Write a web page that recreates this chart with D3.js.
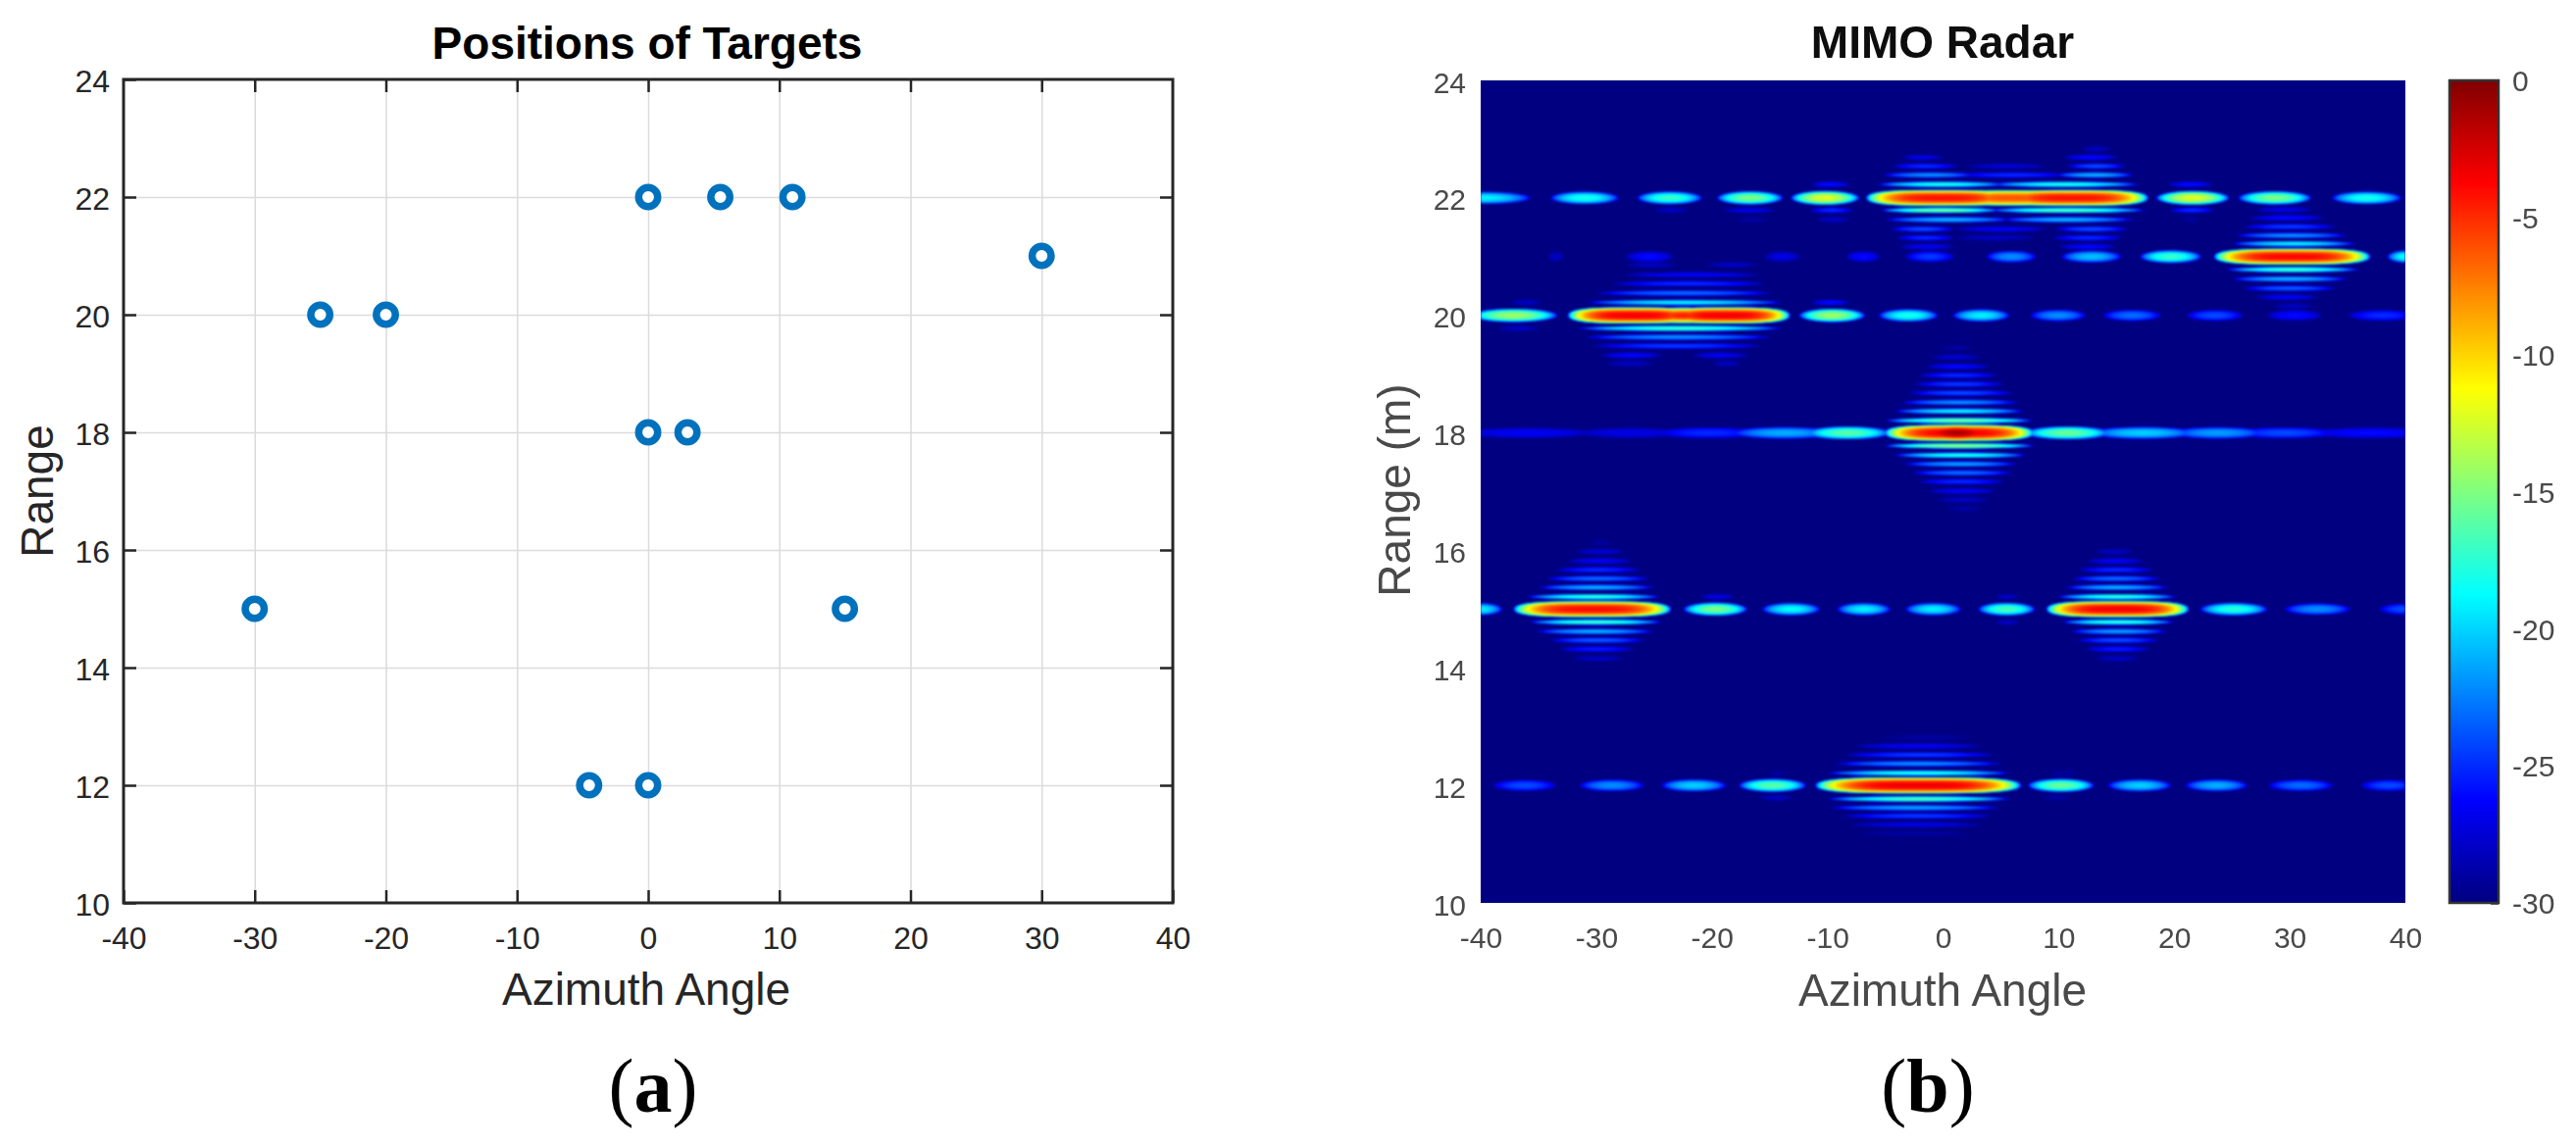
<!DOCTYPE html>
<html>
<head>
<meta charset="utf-8">
<script src="https://cdn.jsdelivr.net/npm/d3@7"></script>
<style>
body { margin: 0; background: #fff; }
text { font-family: "Liberation Sans", Arial, sans-serif; }
.caption { font-family: "Liberation Serif", serif; }
</style>
</head>
<body>
<svg id="fig" width="2627" height="1170"></svg>
<script>
// target positions, panel (a)
var targetAz = [0, 5.5, 11, 30, -25, -20, 0, 3, -30, 15, -4.5, 0]
var targetRange = [22, 22, 22, 21, 20, 20, 18, 18, 15, 15, 12, 12]

var azTicks = [-40, -30, -20, -10, 0, 10, 20, 30, 40]
var rangeTicks = [10, 12, 14, 16, 18, 20, 22, 24]
var dbTicks = [0, -5, -10, -15, -20, -25, -30]

// jet colormap stops
var jetDb = [-30, -26.25, -18.75, -11.25, -3.75, 0]
var jetColors = ["#000080", "#0000ff", "#00ffff", "#ffff00", "#ff0000", "#800000"]

// panel (b): bright streaks on each range line
// [az start, az end, peak dB]
var row22Spots = [[-44, -35.6, -19], [-34, -28, -18], [-26.5, -20.8, -17], [-19.6, -13.8, -15], [-13.2, -7.2, -12],
  [-6.7, 6.5, -4.2], [1, 11, -6.2], [4.5, 17.8, -4.2], [18.4, 24.8, -12], [25.5, 31.9, -15], [33.6, 39.7, -18]]
var row21Spots = [[-34.2, -32.8, -28], [-27.5, -23.3, -26], [-15.5, -12.3, -27], [-8.4, -5.4, -26], [-3.3, 1, -24.5],
  [3.7, 8.1, -22], [10.2, 15.5, -20.5], [17, 22.4, -17], [23.4, 37, -3.8], [38.4, 42, -18]]
var row20Spots = [[-41, -33.3, -14], [-32.5, -21, -3.5], [-27, -18, -4.5], [-24.5, -13.2, -3.5], [-12.5, -6.7, -14],
  [-5.6, -0.4, -18], [0.8, 5.8, -19], [7.5, 12.4, -22], [13.8, 18.9, -23], [21, 26, -24], [28, 32.8, -26], [35, 41, -25]]
var row18Spots = [[-42, -30, -26.5], [-32, -22, -27], [-25, -15.5, -25], [-18.5, -9, -21], [-12, -4.5, -16],
  [-5.1, 7.9, -3.5], [-3, 5.4, -1], [7, 14.5, -15.5], [12.5, 22, -20], [19.5, 28, -21.5], [25, 34, -24], [31, 43, -26]]
var row15Spots = [[-42, -38.1, -19], [-37.2, -23.5, -4], [-22.5, -16.9, -15], [-15.7, -10.6, -18.5], [-9.2, -4.5, -19],
  [-3.3, 1.6, -19], [3, 8, -16.5], [8.9, 21.3, -3.5], [22.2, 28.1, -17.5], [29.5, 35.3, -22], [37.7, 42, -24]]
var row12Spots = [[-39, -33.4, -24], [-31.5, -25.8, -22], [-24.4, -18.7, -20], [-17.7, -11.8, -16], [-11.1, 6.8, -3.2],
  [7.3, 13.1, -15.5], [14.2, 19.8, -20], [20.9, 26.4, -21], [28.1, 33.8, -23], [36.1, 41, -24]]

var spotRows = [22, 21, 20, 18, 15, 12]
var spotLists = [row22Spots, row21Spots, row20Spots, row18Spots, row15Spots, row12Spots]

// thin side stripes above and below the main lobes
// [range, az start, az end, peak dB]
var fringes22 = [[22.23, -5.7, 5.5, -18], [22.23, 4, 17, -18], [22.39, -5.2, 2.9, -22], [22.39, 1, 11, -25], [22.39, 9.7, 16.5, -21],
  [22.54, -4.4, 1.3, -25], [22.54, 2, 9, -27.5], [22.54, 10.7, 15.8, -24], [22.69, -3.6, 0, -27], [22.69, 10.4, 15.1, -26], [22.83, 12, 14.5, -28],
  [21.79, -5.4, 5, -15.5], [21.79, 4, 17.5, -16.5], [21.63, -5, 6, -21], [21.63, 5, 16.5, -21], [21.47, -4.5, 1, -24], [21.47, 1, 9, -26.5], [21.47, 9.7, 16, -24],
  [21.32, -4, 1, -25], [21.32, 1, 8, -28], [21.32, 9.5, 15.5, -25], [21.17, -3.8, 1, -26.5], [21.17, 10, 15, -26],
  [22.23, -11.5, -8, -26], [21.79, -11.5, -7.8, -25], [21.63, -11, -8, -28], [21.79, -25, -22, -28], [21.79, -19, -14.5, -27], [21.63, -18, -15, -29],
  [21.79, 19.6, 23.5, -25], [22.23, 19.4, 23.4, -26], [21.63, 20.6, 22.2, -29]]
var fringes21 = [[21.22, 25, 35.7, -19], [21.36, 25.3, 35, -22], [21.51, 26, 34, -24.5], [21.66, 26.5, 33, -26], [21.8, 27, 32, -27],
  [20.78, 24.5, 36, -17], [20.62, 25, 35, -21], [20.46, 26, 34, -23.5], [20.31, 27, 32.5, -26.5], [20.16, 28.5, 32, -28]]
var fringes20 = [[20.22, -30.8, -13.9, -19], [20.38, -30, -14.8, -23], [20.54, -28.7, -15.3, -25], [20.69, -27.7, -15.8, -26.5], [20.86, -27.5, -23, -28], [20.86, -20.5, -16, -28],
  [19.78, -31.6, -13.9, -17], [19.63, -31, -14.9, -22], [19.48, -30.4, -15.7, -24.5], [19.32, -29.6, -24.3, -26], [19.32, -21.7, -16.8, -26.5], [19.18, -29.2, -25, -28], [19.18, -20, -17.5, -28],
  [20.22, -37.5, -34.7, -28], [19.78, -38.5, -34.9, -28], [20.22, -11.4, -8.1, -26]]
var fringes18 = [[18.21, -5, 7.8, -15.5], [18.37, -4.2, 7, -19], [18.52, -3.6, 6.5, -22], [18.68, -3, 6.1, -24], [18.83, -2.5, 5.3, -24.5], [18.98, -2.1, 4.7, -25], [19.13, -1.5, 4, -26], [19.29, -1, 3.2, -27.5], [19.45, -0.4, 2.5, -29],
  [17.78, -5.1, 7.9, -14.5], [17.62, -4.2, 7.2, -18], [17.47, -3.4, 6.4, -21.5], [17.32, -2.7, 6, -23], [17.17, -2.1, 5.3, -25], [17.01, -1.3, 4.6, -26.5], [16.86, -0.6, 4.1, -28], [16.71, 0.2, 3.5, -29]]
var fringes15 = [[15.21, -36, -24.5, -17.5], [15.37, -35, -25, -21], [15.52, -34.3, -25.4, -23], [15.67, -33.5, -26.2, -25], [15.82, -32.5, -26.9, -26.5], [15.98, -31.8, -27.5, -27.5], [16.13, -30.5, -28.7, -29],
  [14.78, -35.8, -24.3, -17], [14.62, -35.2, -25, -21], [14.47, -34, -25.8, -23.5], [14.32, -33.2, -26.7, -25.5], [14.16, -32.1, -27.6, -28],
  [15.21, 9.9, 20.2, -17.5], [15.37, 10.6, 19.5, -21], [15.52, 11.2, 18.8, -23], [15.67, 11.7, 18.2, -25], [15.82, 12.4, 17.4, -26.5], [15.98, 13.1, 16.5, -28],
  [14.78, 10.3, 20, -17.5], [14.62, 11, 19.4, -21.5], [14.47, 11.6, 18.7, -24], [14.32, 12.3, 17.9, -25.5], [14.16, 13.1, 17, -28],
  [15.21, -21, -18, -27], [15.21, 4.5, 6.6, -28], [14.78, 4.5, 6.6, -28]]
var fringes12 = [[12.21, -10, 5.8, -18], [12.37, -9.4, 5.1, -22], [12.52, -8.5, 4.5, -24.5], [12.67, -7.7, 3.4, -26.5], [12.82, -5.3, 2.5, -29],
  [11.77, -10, 5.8, -16.5], [11.62, -9.8, 4.9, -21.5], [11.48, -8.7, 4.2, -24.5], [11.33, -8.1, 3.4, -27], [11.18, -7.4, 2.3, -29],
  [12.21, -15, -13.5, -29], [11.79, -15.9, -13, -28], [12.21, 9.2, 11.6, -29], [11.79, 8.6, 11, -29]]
var fringeLists = [fringes22, fringes21, fringes20, fringes18, fringes15, fringes12]

var svg = d3.select("#fig")
var ink = "#262626"
var gray = "#484848"
var plainNum = function(d) { return String(d) }

// soft edge for the text of panel (b), that panel is a blurry raster in the source
svg.append("defs").append("filter").attr("id", "soft")
  .append("feGaussianBlur").attr("stdDeviation", 0.6)

// ---------- panel (a)
var boxA = {left: 126, right: 1196, top: 81, bottom: 921}
var xA = d3.scaleLinear().domain([-40, 40]).range([boxA.left, boxA.right])
var yA = d3.scaleLinear().domain([10, 24]).range([boxA.bottom, boxA.top])
var innerAz = azTicks.slice(1, -1)
var innerRange = rangeTicks.slice(1, -1)

var panelA = svg.append("g")

// grid
panelA.append("g").attr("transform", "translate(0," + boxA.bottom + ")")
  .call(d3.axisBottom(xA).tickValues(innerAz).tickSize(boxA.top - boxA.bottom).tickFormat(""))
  .call(function(g) { g.select(".domain").remove(); g.selectAll("line").attr("stroke", "#dcdcdc").attr("stroke-width", 1.6) })
panelA.append("g").attr("transform", "translate(" + boxA.left + ",0)")
  .call(d3.axisLeft(yA).tickValues(innerRange).tickSize(boxA.left - boxA.right).tickFormat(""))
  .call(function(g) { g.select(".domain").remove(); g.selectAll("line").attr("stroke", "#dcdcdc").attr("stroke-width", 1.6) })

function styleAxis(g, size) {
  g.select(".domain").remove()
  g.selectAll("line").attr("stroke", ink).attr("stroke-width", 2.5)
  g.selectAll("text").attr("fill", ink).style("font-size", size + "px")
}

// four sides with ticks pointing in
panelA.append("g").attr("transform", "translate(0," + boxA.bottom + ")")
  .call(d3.axisBottom(xA).tickValues(azTicks).tickFormat(plainNum).tickSize(-13).tickPadding(24))
  .call(styleAxis, 32)
panelA.append("g").attr("transform", "translate(0," + boxA.top + ")")
  .call(d3.axisTop(xA).tickValues(innerAz).tickSize(-13).tickFormat(""))
  .call(styleAxis, 32)
panelA.append("g").attr("transform", "translate(" + boxA.left + ",0)")
  .call(d3.axisLeft(yA).tickValues(rangeTicks).tickFormat(plainNum).tickSize(-13).tickPadding(14))
  .call(styleAxis, 32)
  .call(function(g) { g.selectAll("text").attr("dy", "0.4em") })
panelA.append("g").attr("transform", "translate(" + boxA.right + ",0)")
  .call(d3.axisRight(yA).tickValues(innerRange).tickSize(-13).tickFormat(""))
  .call(styleAxis, 32)
panelA.append("rect")
  .attr("x", boxA.left).attr("y", boxA.top)
  .attr("width", boxA.right - boxA.left).attr("height", boxA.bottom - boxA.top)
  .attr("fill", "none").attr("stroke", ink).attr("stroke-width", 3)

panelA.selectAll("circle.target").data(targetAz).enter().append("circle")
  .attr("class", "target")
  .attr("cx", function(d) { return xA(d) })
  .attr("cy", function(d, i) { return yA(targetRange[i]) })
  .attr("r", 9.7)
  .attr("fill", "#fff")
  .attr("stroke", "#0072bd")
  .attr("stroke-width", 7.5)

panelA.append("text").attr("x", 660).attr("y", 60).attr("text-anchor", "middle")
  .attr("font-weight", "bold").attr("font-size", 46).attr("fill", "#000").text("Positions of Targets")
panelA.append("text").attr("x", 659).attr("y", 1025).attr("text-anchor", "middle")
  .attr("font-size", 46).attr("fill", ink).text("Azimuth Angle")
panelA.append("text").attr("transform", "translate(54,501) rotate(-90)").attr("text-anchor", "middle")
  .attr("font-size", 46).attr("fill", ink).text("Range")

// ---------- panel (b)
var boxB = {left: 1510, right: 2453, top: 82, bottom: 921}
var xB = d3.scaleLinear().domain([-40, 40]).range([boxB.left, boxB.right])
var yB = d3.scaleLinear().domain([10, 24]).range([boxB.bottom, boxB.top])
var jet = d3.scaleLinear().domain(jetDb).range(jetColors).clamp(true)

// colour table so the pixel loop stays quick
var lut = d3.range(0, 601).map(function(i) { return d3.rgb(jet(-30 + i * 0.05)) })

var W = boxB.right - boxB.left, H = boxB.bottom - boxB.top
var field = new Float32Array(W * H).fill(-30)

// stamp one streak into the field, a lobe that drops to the floor at its edges
function stamp(range, az0, az1, peak, halfHeight) {
  var cx = xB((az0 + az1) / 2) - boxB.left
  var cy = yB(range) - boxB.top
  var hw = (xB(az1) - xB(az0)) / 2
  var hh = yB(range - halfHeight) - yB(range)
  var wide = (az1 - az0) > 9 && peak > -8
  var p = wide ? 3.4 : 2
  var q = wide ? 2.5 : 2
  var yMin = Math.max(0, Math.floor(cy - hh)), yMax = Math.min(H - 1, Math.ceil(cy + hh))
  var xMin = Math.max(0, Math.floor(cx - hw)), xMax = Math.min(W - 1, Math.ceil(cx + hw))
  for (var py = yMin; py <= yMax; py++) {
    var dy = Math.pow(Math.abs((py + 0.5 - cy) / hh), q)
    for (var px = xMin; px <= xMax; px++) {
      var r = Math.pow(Math.abs((px + 0.5 - cx) / hw), p) + dy
      if (r >= 1) continue
      var v = -30 + (peak + 30) * Math.sqrt(1 - r)
      var k = py * W + px
      if (v > field[k]) field[k] = v
    }
  }
}

spotLists.forEach(function(list, i) {
  list.forEach(function(s) { stamp(spotRows[i], s[0], s[1], s[2], 0.085 + (s[2] + 30) * 0.0022) })
})
fringeLists.forEach(function(list) {
  list.forEach(function(f) { stamp(f[0], f[1], f[2], f[3], 0.052) })
})

var canvas = document.createElement("canvas")
canvas.width = W
canvas.height = H
var ctx = canvas.getContext("2d")
var img = ctx.createImageData(W, H)
for (var i = 0; i < field.length; i++) {
  var c = lut[Math.round((field[i] + 30) / 0.05)]
  img.data[i * 4] = c.r
  img.data[i * 4 + 1] = c.g
  img.data[i * 4 + 2] = c.b
  img.data[i * 4 + 3] = 255
}
ctx.putImageData(img, 0, 0)

// second pass with a little blur, navy underneath so the edges stay solid
var soft = document.createElement("canvas")
soft.width = W
soft.height = H
var softCtx = soft.getContext("2d")
softCtx.fillStyle = jetColors[0]
softCtx.fillRect(0, 0, W, H)
softCtx.filter = "blur(1.2px)"
softCtx.drawImage(canvas, 0, 0)

var panelB = svg.append("g")
panelB.append("image")
  .attr("x", boxB.left).attr("y", boxB.top)
  .attr("width", W).attr("height", H)
  .attr("href", soft.toDataURL())

var labelsB = panelB.append("g").attr("filter", "url(#soft)")

function styleGray(g) {
  g.select(".domain").remove()
  g.selectAll("line").remove()
  g.selectAll("text").attr("fill", gray).style("font-size", "30px")
}

labelsB.append("g").attr("transform", "translate(0," + boxB.bottom + ")")
  .call(d3.axisBottom(xB).tickValues(azTicks).tickFormat(plainNum).tickSize(0).tickPadding(25))
  .call(styleGray)
labelsB.append("g").attr("transform", "translate(" + boxB.left + ",0)")
  .call(d3.axisLeft(yB).tickValues(rangeTicks).tickFormat(plainNum).tickSize(0).tickPadding(15))
  .call(styleGray)
  .call(function(g) { g.selectAll("text").attr("dy", "0.4em") })

labelsB.append("text").attr("x", 1981).attr("y", 59).attr("text-anchor", "middle")
  .attr("font-weight", "bold").attr("font-size", 46).attr("fill", "#111").text("MIMO Radar")
labelsB.append("text").attr("x", 1981).attr("y", 1026).attr("text-anchor", "middle")
  .attr("font-size", 46).attr("fill", gray).text("Azimuth Angle")
labelsB.append("text").attr("transform", "translate(1438,500) rotate(-90)").attr("text-anchor", "middle")
  .attr("font-size", 46).attr("fill", gray).text("Range (m)")

// colorbar
var barLeft = 2498, barRight = 2548
var yBar = d3.scaleLinear().domain([-30, 0]).range([boxB.bottom, boxB.top])
var grad = svg.append("defs").append("linearGradient")
  .attr("id", "jetBar").attr("x1", 0).attr("x2", 0).attr("y1", 1).attr("y2", 0)
grad.selectAll("stop").data(jetDb).enter().append("stop")
  .attr("offset", function(d) { return (d + 30) / 30 })
  .attr("stop-color", function(d) { return jet(d) })
panelB.append("rect")
  .attr("x", barLeft).attr("y", boxB.top)
  .attr("width", barRight - barLeft).attr("height", H)
  .attr("fill", "url(#jetBar)").attr("stroke", "#333").attr("stroke-width", 2.5)
labelsB.append("g").attr("transform", "translate(" + barRight + ",0)")
  .call(d3.axisRight(yBar).tickValues(dbTicks).tickFormat(plainNum).tickSize(-8).tickPadding(14))
  .call(function(g) {
    g.select(".domain").remove()
    g.selectAll("line").attr("stroke", "#333").attr("stroke-width", 2.5)
    g.selectAll("text").attr("fill", gray).style("font-size", "30px").attr("dy", "0.36em")
  })

// captions
var cap = svg.append("g")
function caption(x, letter) {
  var t = cap.append("text").attr("class", "caption").attr("x", x).attr("y", 1134)
    .attr("text-anchor", "middle").attr("font-size", 78).attr("fill", "#000")
  t.append("tspan").text("(")
  t.append("tspan").attr("font-weight", "bold").text(letter)
  t.append("tspan").text(")")
}
caption(666, "a")
caption(1966, "b")
</script>
</body>
</html>
